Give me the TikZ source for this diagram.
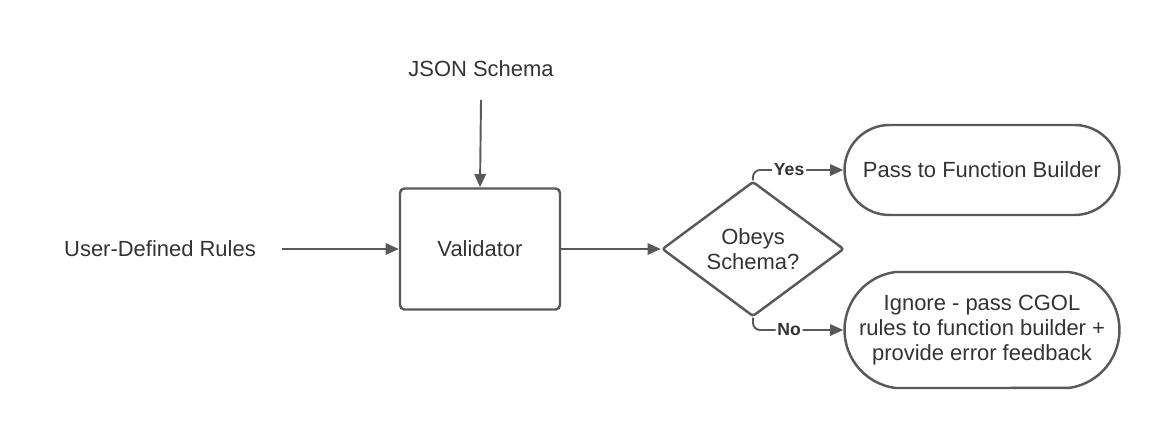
\documentclass[tikz,border=0pt]{standalone}
\usepackage{fontspec}
\setmainfont{Liberation Sans}
\usetikzlibrary{arrows.meta,shapes.geometric,shapes.misc}
\definecolor{linegray}{HTML}{595959}
\definecolor{textgray}{HTML}{333333}
\tikzset{
    box/.style = {draw = linegray, line width = 1.4pt, rounded corners = 2.5pt,
        minimum width = 3.2cm, minimum height = 2.42cm, inner sep = 0pt},
    decision/.style = {diamond, draw = linegray, line width = 1.4pt, rounded corners = 1.5pt,
        minimum width = 3.64cm, minimum height = 2.7cm, inner sep = 0pt, align = center},
    terminal/.style = {rounded rectangle, draw = linegray, line width = 1.4pt,
        minimum width = 5.5cm, inner sep = 0pt, align = center},
    plain/.style = {inner sep = 0pt, align = center},
    flow/.style = {draw = linegray, line width = 1.1pt, -{Triangle[length = 7.5pt, width = 6.5pt]}},
    answer/.style = {fill = white, inner sep = 1pt, font = \fontsize{10}{12}\selectfont\bfseries}
}
\begin{document}
\begin{tikzpicture}[x = 0.02cm, y = -0.02cm, text = textgray,
        font = \fontsize{12.5}{14.2}\selectfont]
    \useasboundingbox (0, 0) rectangle (1160, 428);

    \node [plain] (schema) at (481, 69) {JSON Schema};
    \node [plain] (rules) at (160, 249) {User-Defined Rules};
    \node [box] (validator) at (480, 249) {Validator};
    \node [decision] (obeys) at (753, 249) {Obeys\\Schema?};
    \node [terminal, minimum height = 1.8cm] (pass) at (982, 170) {Pass to Function Builder};
    \node [terminal, rounded rectangle arc length = 165, minimum height = 2.32cm]
        (ignore) at (982, 330)
        {Ignore - pass CGOL\\rules to function builder +\\provide error feedback};

    \coordinate (schemaend) at (481, 100);
    \coordinate (rulesend) at (282, 249);

    \draw [flow] (schemaend) -- (validator.north);
    \draw [flow] (rulesend) -- (validator.west);
    \draw [flow] (validator.east) -- (obeys.west);
    \draw [flow, rounded corners = 4pt] (obeys.north) |- (pass.west)
        node [answer, pos = 0.7] (yes) {Yes};
    \draw [flow, rounded corners = 4pt] (obeys.south) |- (ignore.west)
        node [answer, pos = 0.7] (no) {No};
\end{tikzpicture}
\end{document}
